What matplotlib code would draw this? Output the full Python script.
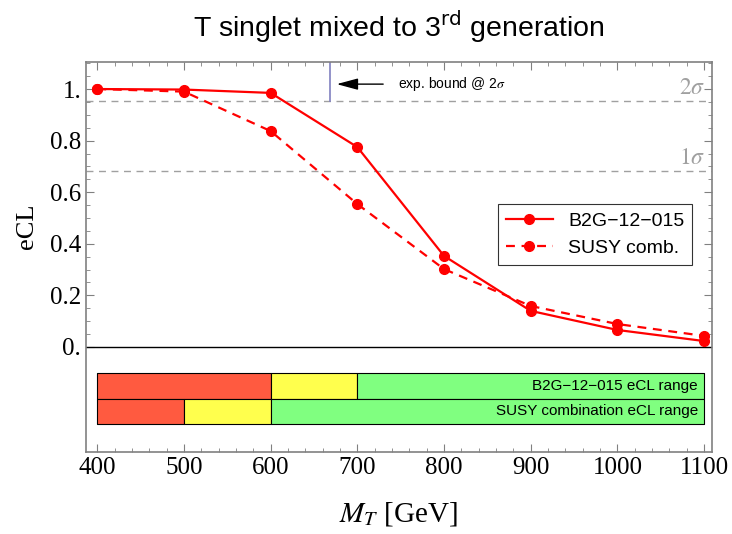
import numpy as np
import matplotlib
matplotlib.use("Agg")
import matplotlib.pyplot as plt
from matplotlib.ticker import MultipleLocator, FixedLocator

plt.rcParams['mathtext.fontset'] = 'stix'

# data
masses = [400, 500, 600, 700, 800, 900, 1000, 1100]
ecl_b2g = [1.0, 0.998, 0.985, 0.775, 0.353, 0.140, 0.066, 0.023]
ecl_susy = [1.0, 0.99, 0.837, 0.554, 0.302, 0.159, 0.089, 0.043]

sigma_levels = [0.6827, 0.9545]
sigma_labels = ['$1\\sigma$', '$2\\sigma$']
exp_bound = 668

# eCL range bars: (start, end, colour) per row
range_edges_b2g = [400, 600, 700, 1100]
range_edges_susy = [400, 500, 600, 1100]
range_colors = ['#ff5a40', '#ffff4d', '#80ff80']
range_names = ['B2G\u221212\u2212015 eCL range', 'SUSY combination eCL range']

xticks = [400, 500, 600, 700, 800, 900, 1000, 1100]
yticks = [0, 0.2, 0.4, 0.6, 0.8, 1.0]
ytick_labels = ['0.', '0.2', '0.4', '0.6', '0.8', '1.']

fig = plt.figure(figsize=(7.32, 5.34), dpi=100)
ax = fig.add_axes([0.1175, 0.1536, 0.855, 0.7304])
ax.set_xlim(387, 1109)
ax.set_ylim(-0.407, 1.105)

red = '#ff0000'
ax.plot(masses, ecl_b2g, '-', color=red, lw=1.6, marker='o', ms=7, label='B2G\u221212\u2212015', zorder=4)
ax.plot(masses, ecl_susy, '--', color=red, lw=1.6, marker='o', ms=7, label='SUSY comb.', dashes=(4, 3), zorder=4)

# sigma lines
for lev, lab in zip(sigma_levels, sigma_labels):
    ax.axhline(lev, color='#a0a0a0', lw=1, ls=(0, (5, 4)), zorder=1)
    ax.text(1101, lev + 0.008, lab, color='#a0a0a0', fontsize=17, ha='right', va='bottom')

ax.axhline(0, color='black', lw=1, zorder=2)

# experimental bound
ax.plot([exp_bound, exp_bound], [sigma_levels[1], 1.105], color='#8080c0', lw=1.2, zorder=2)
ax.annotate('', xy=(exp_bound + 5, 1.019), xytext=(exp_bound + 65, 1.019),
            arrowprops=dict(arrowstyle='-|>,head_length=1.3,head_width=0.35', color='black', lw=1))
ax.text(exp_bound + 79, 1.019, 'exp. bound @ 2$\\sigma$', fontsize=10, va='center',
        family='Liberation Sans')

# range bars
rows = [(range_edges_b2g, -0.1), (range_edges_susy, -0.2)]
for (edges, top), name in zip(rows, range_names):
    for i in range(3):
        ax.fill_between([edges[i], edges[i + 1]], top - 0.1, top, color=range_colors[i],
                        edgecolor='black', lw=0.8, zorder=3)
    ax.text(1093, top - 0.05, name, fontsize=11, ha='right', va='center',
            family='Liberation Sans', zorder=4)

# ticks
ax.xaxis.set_major_locator(FixedLocator(xticks))
ax.xaxis.set_minor_locator(MultipleLocator(20))
ax.yaxis.set_major_locator(FixedLocator(yticks))
ax.yaxis.set_minor_locator(FixedLocator(np.arange(0.05, 1.11, 0.05)))
ax.set_yticklabels(ytick_labels)
ax.tick_params(which='both', direction='in', top=True, right=True, color='#808080')
ax.tick_params(which='major', length=6, width=0.8)
ax.tick_params(which='minor', length=3, width=0.6)
ax.tick_params(labelsize=18)
for lab in ax.get_xticklabels() + ax.get_yticklabels():
    lab.set_family('Liberation Serif')
for sp in ax.spines.values():
    sp.set_color('#808080')
    sp.set_linewidth(1.2)

ax.set_xlabel('$M_T$ [GeV]', fontsize=21, family='Liberation Serif', labelpad=15)
ax.set_ylabel('eCL', fontsize=19, family='Liberation Serif')
ax.yaxis.set_label_coords(-0.077, 0.58)
ttl = ax.set_title('T singlet mixed to 3$^{\\mathrm{rd}}$ generation', fontsize=20.5,
                   family='Liberation Sans', pad=18)
ttl.set_math_fontfamily('dejavusans')

leg = ax.legend(loc='upper right', bbox_to_anchor=(0.984, 0.66), frameon=True,
                fancybox=False, edgecolor='black', handlelength=2.4,
                prop={'family': 'Liberation Sans', 'size': 14})
leg.get_frame().set_linewidth(0.8)

fig.savefig('out.png', dpi=100)
